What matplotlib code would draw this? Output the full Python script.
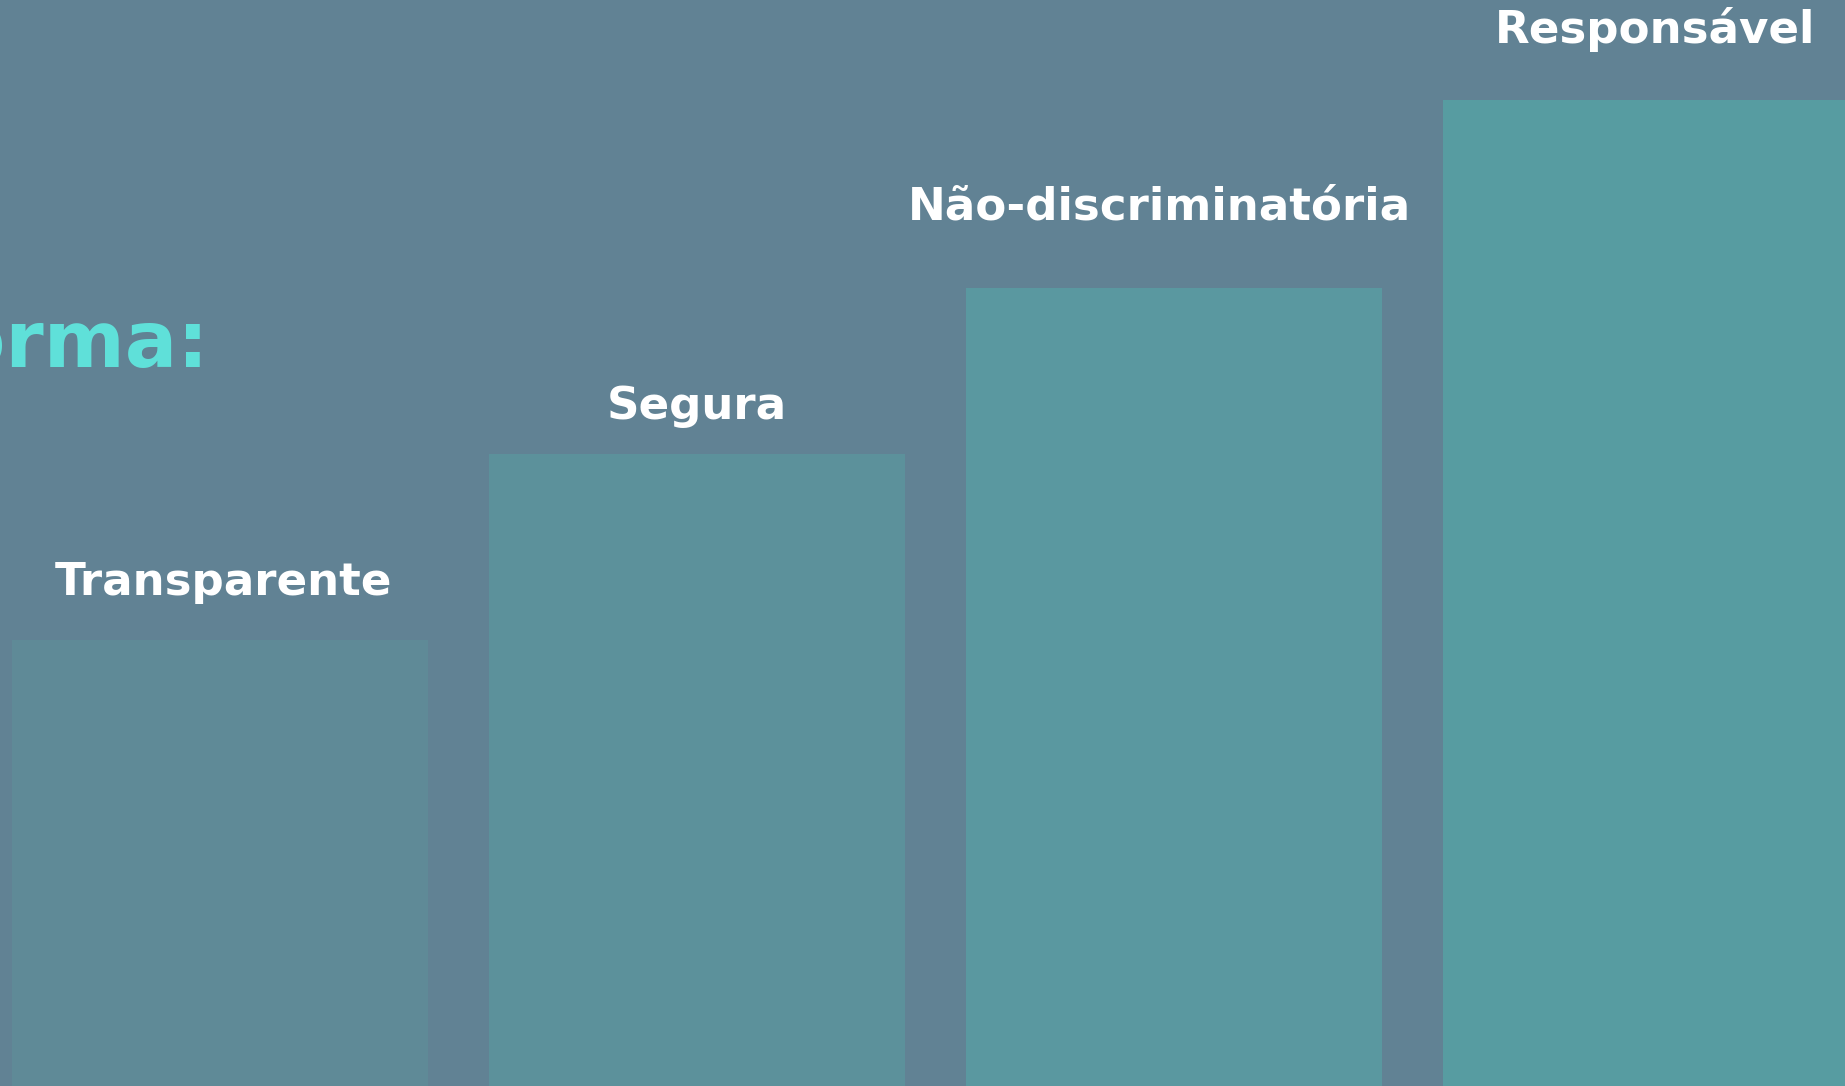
import numpy as np
import matplotlib.pyplot as plt

# bar categories and heights (in pixel-like units)
categories = ['Transparente', 'Segura', 'Não-discriminatória', 'Responsável']
heights = [446, 632, 798, 986]
bar_colors = ['#5f8a97', '#5c919b', '#5a98a0', '#579ca1']
label_gap = [45, 35, 68, 57]
label_shift = [3, 0, -15, 4]

bg = '#618294'

fig = plt.figure(figsize=(18.45, 10.86), dpi=100)
fig.patch.set_facecolor(bg)
ax = fig.add_axes([0, 0, 1, 1])
ax.set_facecolor(bg)

x = np.arange(len(categories))
step = 477.0
ax.bar(x, heights, width=416 / step, color=bar_colors, linewidth=0)
ax.set_xlim(-220 / step, (1845 - 220) / step)
ax.set_ylim(0, 1086)
ax.axis('off')

for xi, h, name, g, s in zip(x, heights, categories, label_gap, label_shift):
    ax.text(xi + s / step, h + g, name, ha='center', va='baseline', color='white',
            fontsize=32.5, fontweight='bold', family='DejaVu Sans')

# cut-off heading on the left edge
fig.text(209 / 1845, 1 - 367 / 1086, 'forma:', ha='right', va='baseline',
         color='#5fe0d9', fontsize=56, fontweight='bold', family='DejaVu Sans')

fig.savefig('out.png', dpi=100, facecolor=bg)
